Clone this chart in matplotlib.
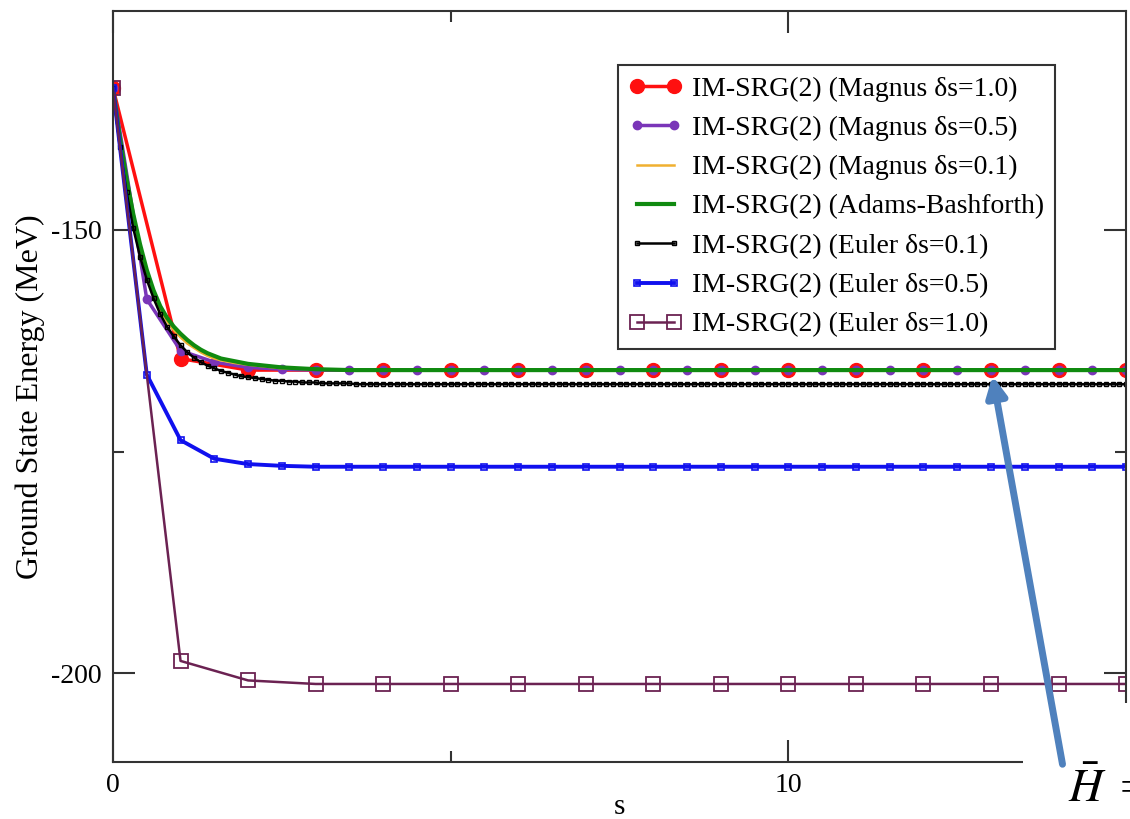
import numpy as np
import matplotlib
matplotlib.use("Agg")
import matplotlib.pyplot as plt
from matplotlib.patches import Rectangle, FancyArrowPatch

plt.rcParams['font.family'] = ['Liberation Serif', 'DejaVu Serif']
plt.rcParams['mathtext.fontset'] = 'stix'
plt.rcParams['axes.unicode_minus'] = False

# Magnus ds=1.0
s_m10 = np.arange(0, 16, 1.0)
e_m10 = [-134.0, -164.5, -165.8, -165.8, -165.8, -165.8, -165.8, -165.8,
         -165.8, -165.8, -165.8, -165.8, -165.8, -165.8, -165.8, -165.8]

# Magnus ds=0.5
s_m05 = np.arange(0, 15.25, 0.5)
e_m05 = [-134.0, -157.8, -163.6, -164.9, -165.5, -165.7, -165.8, -165.8,
         -165.8, -165.8, -165.8, -165.8, -165.8, -165.8, -165.8, -165.8,
         -165.8, -165.8, -165.8, -165.8, -165.8, -165.8, -165.8, -165.8,
         -165.8, -165.8, -165.8, -165.8, -165.8, -165.8, -165.8]

# Magnus ds=0.1 (line only)
s_m01 = [0, 0.1, 0.2, 0.3, 0.4, 0.5, 0.6, 0.7, 0.8, 0.9, 1.0, 1.1, 1.2,
         1.3, 1.4, 1.5, 1.6, 1.8, 2.0, 2.25, 2.5, 3.0, 3.5, 15.0]
e_m01 = [-134.0, -139.7, -144.5, -148.6, -152.0, -154.9, -157.2, -159.0,
         -160.3, -161.3, -162.1, -162.8, -163.3, -163.8, -164.2, -164.5,
         -164.7, -165.0, -165.2, -165.4, -165.6, -165.7, -165.8, -165.8]

# Adams-Bashforth (line only)
s_ab = [0, 0.1, 0.2, 0.3, 0.4, 0.5, 0.6, 0.7, 0.8, 0.9, 1.0, 1.1, 1.2,
        1.3, 1.4, 1.5, 1.6, 1.8, 2.0, 2.25, 2.5, 3.0, 3.5, 15.0]
e_ab = [-134.0, -139.5, -144.2, -148.2, -151.6, -154.5, -156.8, -158.6,
        -159.9, -160.9, -161.7, -162.4, -163.0, -163.5, -163.9, -164.2,
        -164.5, -164.8, -165.1, -165.3, -165.5, -165.7, -165.8, -165.8]

# Euler ds=0.1
s_e01 = np.round(np.arange(0, 15.05, 0.1), 1)
e_e01 = [-134.0, -140.6, -145.7, -149.8, -153.0, -155.6, -157.7, -159.5,
         -160.9, -162.0, -163.0, -163.8, -164.4, -164.9, -165.3, -165.6,
         -165.9, -166.1, -166.3, -166.5, -166.6, -166.7, -166.8, -166.9,
         -167.0, -167.0, -167.1, -167.1, -167.2, -167.2, -167.2, -167.3,
         -167.3, -167.3, -167.3, -167.3,
         -167.4, -167.4, -167.4, -167.4, -167.4, -167.4, -167.4, -167.4,
         -167.4, -167.4, -167.4, -167.4, -167.4, -167.4, -167.4, -167.4,
         -167.4, -167.4, -167.4, -167.4, -167.4, -167.4, -167.4, -167.4,
         -167.4, -167.4, -167.4, -167.4, -167.4, -167.4, -167.4, -167.4,
         -167.4, -167.4, -167.4, -167.4, -167.4, -167.4, -167.4, -167.4,
         -167.4, -167.4, -167.4, -167.4, -167.4, -167.4, -167.4, -167.4,
         -167.4, -167.4, -167.4, -167.4, -167.4, -167.4, -167.4, -167.4,
         -167.4, -167.4, -167.4, -167.4, -167.4, -167.4, -167.4, -167.4,
         -167.4, -167.4, -167.4, -167.4, -167.4, -167.4, -167.4, -167.4,
         -167.4, -167.4, -167.4, -167.4, -167.4, -167.4, -167.4, -167.4,
         -167.4, -167.4, -167.4, -167.4, -167.4, -167.4, -167.4, -167.4,
         -167.4, -167.4, -167.4, -167.4, -167.4, -167.4, -167.4, -167.4,
         -167.4, -167.4, -167.4, -167.4, -167.4, -167.4, -167.4, -167.4,
         -167.4, -167.4, -167.4, -167.4, -167.4, -167.4, -167.4, -167.4,
         -167.4, -167.4, -167.4]

# Euler ds=0.5
s_e05 = np.arange(0, 15.25, 0.5)
e_e05 = [-134.0, -166.3, -173.7, -175.8, -176.4, -176.6, -176.7, -176.7,
         -176.7, -176.7, -176.7, -176.7, -176.7, -176.7, -176.7, -176.7,
         -176.7, -176.7, -176.7, -176.7, -176.7, -176.7, -176.7, -176.7,
         -176.7, -176.7, -176.7, -176.7, -176.7, -176.7, -176.7]

# Euler ds=1.0
s_e10 = np.arange(0, 16, 1.0)
e_e10 = [-134.0, -198.6, -200.8, -201.2, -201.2, -201.2, -201.2, -201.2,
         -201.2, -201.2, -201.2, -201.2, -201.2, -201.2, -201.2, -201.2]

labels = ['IM-SRG(2) (Magnus δs=1.0)', 'IM-SRG(2) (Magnus δs=0.5)',
          'IM-SRG(2) (Magnus δs=0.1)', 'IM-SRG(2) (Adams-Bashforth)',
          'IM-SRG(2) (Euler δs=0.1)', 'IM-SRG(2) (Euler δs=0.5)',
          'IM-SRG(2) (Euler δs=1.0)']

fig = plt.figure(figsize=(11.3, 8.19), dpi=100)
ax = fig.add_axes([0.1, 0.0696, 0.8965, 0.917])

ax.plot(s_m10, e_m10, color='#ff1010', lw=2.5, marker='o', ms=10, label=labels[0])
ax.plot(s_m05, e_m05, color='#7a35b8', lw=2.5, marker='o', ms=6, label=labels[1])
ax.plot(s_m01, e_m01, color='#f0b030', lw=1.8, label=labels[2])
ax.plot(s_ab, e_ab, color='#108a10', lw=3, label=labels[3])
ax.plot(s_e01, e_e01, color='black', lw=1.8, marker='s', ms=3, mfc='none',
        mew=1, label=labels[4])
ax.plot(s_e05, e_e05, color='#1010ee', lw=2.8, marker='s', ms=5, mfc='none',
        mew=1.2, label=labels[5])
ax.plot(s_e10, e_e10, color='#6b2252', lw=1.8, marker='s', ms=10, mfc='none',
        mew=1.3, label=labels[6])

ax.set_xlim(0, 15)
ax.set_ylim(-210.0, -125.3)
ax.set_xticks([0, 10])
ax.set_xticks([5], minor=True)
ax.set_yticks([-200, -150])
ax.set_yticks([-175], minor=True)
ax.tick_params(which='both', direction='in', top=True, right=True,
               labelsize=20, color='#333333', width=1.5)
ax.tick_params(which='major', length=16, pad=8)
ax.tick_params(which='minor', length=8)
for sp in ax.spines.values():
    sp.set_linewidth(1.5)
    sp.set_color('#333333')

ax.set_xlabel('s', fontsize=21)
ax.xaxis.set_label_coords(0.5, -0.043)
ax.set_ylabel('Ground State Energy (MeV)', fontsize=23)
ax.yaxis.set_label_coords(-0.082, 0.486)
ax.yaxis.label.set_va('center')

leg = ax.legend(loc='upper right', bbox_to_anchor=(0.930, 0.928),
                borderaxespad=0, fontsize=20, fancybox=False, numpoints=2,
                handlelength=1.9, labelspacing=0.5, handletextpad=0.36,
                borderpad=0.4, framealpha=1)
leg.get_frame().set_edgecolor('#333333')
leg.get_frame().set_linewidth(1.5)

# slide overlay in the lower right corner
fig.patches.append(Rectangle((0.9053, 0), 0.1, 0.1416, transform=fig.transFigure,
                             facecolor='white', edgecolor='none', zorder=5))
fig.text(1068 / 1130, 0.035, r'$\bar{H}$', fontsize=34, va='center', ha='left',
         zorder=6)
fig.text(1120 / 1130, 0.035, '=', fontsize=34, va='center', ha='left', zorder=6)

fig.patches.append(FancyArrowPatch(
    (1063 / 1130, 1 - 767 / 819), (992 / 1130, 1 - 373 / 819),
    transform=fig.transFigure, arrowstyle='-|>,head_length=12,head_width=6',
    color='#4f81bd', lw=5, zorder=7))

fig.savefig('out.png', dpi=100)
